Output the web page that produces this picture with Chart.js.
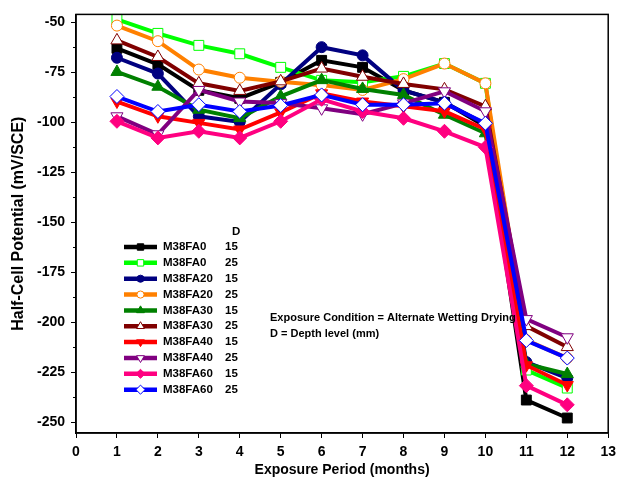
<!DOCTYPE html>
<html>
<head>
<meta charset="utf-8">
<script src="https://cdn.jsdelivr.net/npm/chart.js@4.4.1/dist/chart.umd.min.js"></script>
<style>
  html, body { margin: 0; padding: 0; background: #fff; }
  #wrap { width: 622px; height: 481px; }
</style>
</head>
<body>
<div id="wrap"><canvas id="hcp" width="622" height="481"></canvas></div>
<script>
// half-cell potential readings (mV/SCE) per month of exposure
const months = [1, 2, 3, 4, 5, 6, 7, 8, 9, 10, 11, 12];
const yTicks = [-250, -225, -200, -175, -150, -125, -100, -75, -50];
const xTicks = [0, 1, 2, 3, 4, 5, 6, 7, 8, 9, 10, 11, 12, 13];

const fa0_15  = [-63, -71, -84, -88, -80, -69, -72.5, -84, -90, -102, -239, -248];
const fa0_25  = [-48.5, -55.5, -61.5, -65.7, -72.5, -79, -80, -77, -70.6, -80.5, -224, -233];
const fa20_15 = [-67.7, -75.6, -97, -99.8, -81, -62.4, -66.5, -84, -90, -101, -220, -228];
const fa20_25 = [-51.6, -59.4, -73.6, -77.7, -79.7, -81.4, -83.8, -78.4, -70.6, -80.5, -209, -218];
const fa30_15 = [-74.8, -82.2, -93.7, -97.9, -87, -78.9, -83.3, -86.3, -96.2, -105.5, -221, -226];
const fa30_25 = [-59, -67.3, -80.5, -84.3, -79.5, -73.1, -77.2, -80.8, -83.5, -92, -202, -212.5];
const fa40_15 = [-89.6, -97, -100.3, -103.6, -95, -85.5, -89.6, -92, -94.5, -103.5, -221.6, -231.5];
const fa40_25 = [-97, -106, -83.8, -89.6, -90.4, -93, -96, -90.5, -84.5, -94.5, -198.5, -207.6];
const fa60_15 = [-99.5, -107.8, -104.5, -107.8, -99.5, -88.5, -94.6, -98, -104.5, -112.5, -231.8, -241.4];
const fa60_25 = [-87.1, -94.6, -91.2, -94.6, -91.6, -86.3, -91.2, -91.2, -90.5, -100.5, -209.2, -218];

const mixes  = ['M38FA0', 'M38FA0', 'M38FA20', 'M38FA20', 'M38FA30', 'M38FA30', 'M38FA40', 'M38FA40', 'M38FA60', 'M38FA60'];
const depths = ['15', '25', '15', '25', '15', '25', '15', '25', '15', '25'];

const FONT = '"Liberation Sans", Arial, Helvetica, sans-serif';

// [values, colour, point style, rotation, radius, hollow]
const series = [
  [fa0_15,  '#000000', 'rect',     0,   7,   false],
  [fa0_25,  '#00ff00', 'rect',     0,   7,   true],
  [fa20_15, '#000080', 'circle',   0,   5.5, false],
  [fa20_25, '#ff8000', 'circle',   0,   5.5, true],
  [fa30_15, '#008000', 'triangle', 0,   7,   false],
  [fa30_25, '#800000', 'triangle', 0,   7,   true],
  [fa40_15, '#ff0000', 'triangle', 180, 7,   false],
  [fa40_25, '#800080', 'triangle', 180, 7,   true],
  [fa60_15, '#ff0080', 'rectRot',  0,   7,   false],
  [fa60_25, '#0000ff', 'rectRot',  0,   7,   true],
];

const datasets = series.map(([vals, col, style, rot, r, hollow], i) => ({
  label: mixes[i] + ' ' + depths[i],
  data: months.map((m, j) => ({ x: m, y: vals[j] })),
  borderColor: col,
  borderWidth: 4,
  pointStyle: style,
  pointRotation: rot,
  pointRadius: r,
  pointBackgroundColor: hollow ? '#ffffff' : col,
  pointBorderColor: col,
  pointBorderWidth: 1,
  tension: 0,
  clip: false,
  order: series.length - i,
}));

// box frame, minor y ticks, legend table and the note
const decorations = {
  id: 'decorations',
  afterDraw(chart) {
    const ctx = chart.ctx;
    const a = chart.chartArea;
    const ys = chart.scales.y;
    ctx.save();
    ctx.strokeStyle = '#000';
    ctx.lineWidth = 1.5;
    ctx.strokeRect(a.left, a.top, a.right - a.left, a.bottom - a.top);

    ctx.lineWidth = 1;
    for (let v = -237.5; v <= -50; v += 25) {
      const p = Math.round(ys.getPixelForValue(v)) + 0.5;
      ctx.beginPath();
      ctx.moveTo(a.left - 3, p);
      ctx.lineTo(a.left, p);
      ctx.stroke();
    }

    ctx.fillStyle = '#000';
    ctx.font = 'bold 11.5px ' + FONT;
    ctx.textBaseline = 'middle';
    ctx.textAlign = 'left';
    ctx.fillText('D', 232, 232);
    series.forEach(([vals, col, style, rot, r, hollow], i) => {
      const y = 247 + i * 15.85;
      ctx.strokeStyle = col;
      ctx.lineWidth = 4.5;
      ctx.beginPath();
      ctx.moveTo(124, y);
      ctx.lineTo(157, y);
      ctx.stroke();
      ctx.fillStyle = hollow ? '#fff' : col;
      ctx.strokeStyle = col;
      ctx.lineWidth = 1;
      Chart.helpers.drawPoint(ctx, { pointStyle: style, rotation: rot, radius: r * 0.65, borderWidth: 1 }, 140.5, y);
      ctx.fillStyle = '#000';
      ctx.fillText(mixes[i], 163, y);
      ctx.fillText(depths[i], 225, y);
    });

    ctx.font = 'bold 11px ' + FONT;
    ctx.fillText('Exposure Condition = Alternate Wetting Drying', 270, 318);
    ctx.fillText('D = Depth level (mm)', 270, 334);
    ctx.restore();
  },
};

new Chart(document.getElementById('hcp'), {
  type: 'line',
  data: { datasets },
  plugins: [decorations],
  options: {
    responsive: false,
    animation: false,
    layout: { padding: { left: 0, top: 10, right: 13, bottom: 0 } },
    plugins: { legend: { display: false }, tooltip: { enabled: false } },
    scales: {
      x: {
        type: 'linear',
        min: 0,
        max: 13,
        afterBuildTicks: (s) => { s.ticks = xTicks.map((v) => ({ value: v })); },
        afterFit: (s) => { s.height = 48; },
        ticks: { color: '#000', padding: 6, font: { family: FONT, size: 14, weight: 'bold' } },
        grid: { drawOnChartArea: false, drawTicks: true, tickLength: 5, color: '#000', lineWidth: 1 },
        border: { display: true, color: '#000', width: 1.5 },
        title: {
          display: true,
          text: 'Exposure Period (months)',
          color: '#000',
          padding: { top: 0, bottom: 2 },
          font: { family: FONT, size: 14, weight: 'bold' },
        },
      },
      y: {
        type: 'linear',
        min: -255.5,
        max: -46,
        afterBuildTicks: (s) => { s.ticks = yTicks.map((v) => ({ value: v })); },
        afterFit: (s) => { s.width = 76; },
        ticks: { color: '#000', padding: 6, font: { family: FONT, size: 14, weight: 'bold' } },
        grid: { drawOnChartArea: false, drawTicks: true, tickLength: 5, color: '#000', lineWidth: 1 },
        border: { display: true, color: '#000', width: 1.5 },
        title: {
          display: true,
          text: 'Half-Cell Potential (mV/SCE)',
          color: '#000',
          padding: { top: 9, bottom: 0 },
          font: { family: FONT, size: 16, weight: 'bold' },
        },
      },
    },
  },
});
</script>
</body>
</html>
